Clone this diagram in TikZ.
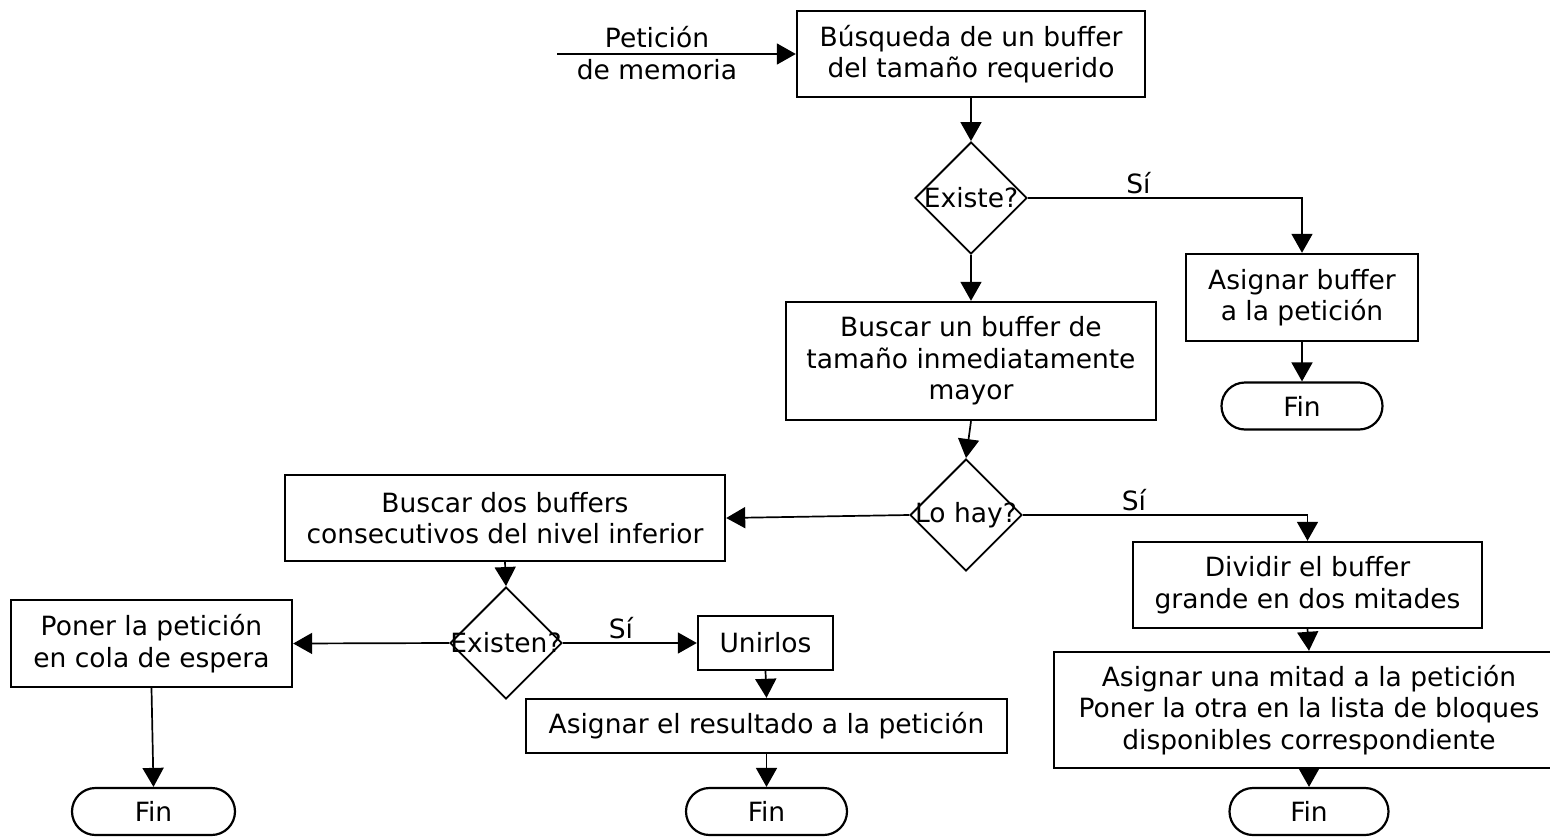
\documentclass[tikz,border=0pt]{standalone}
\usepackage{fontspec}
\setmainfont{DejaVu Sans}
\usetikzlibrary{arrows.meta,shapes.geometric}
\begin{document}
\begin{tikzpicture}[x=1pt,y=-1pt,
  every node/.style={font=\fontsize{26.5}{31.5}\selectfont, inner sep=0pt, align=center},
  procbox/.style={draw, line width=2.4pt, rectangle},
  decision/.style={draw, line width=1.9pt, diamond, minimum width=112pt, minimum height=112pt},
  terminal/.style={draw, line width=2.2pt, rectangle, rounded corners=23.5pt, minimum width=161pt, minimum height=47pt},
  flow/.style={line width=1.7pt, -{Triangle[length=19pt,width=21pt]}},
  answer/.style={anchor=base}]

\useasboundingbox (0,0) rectangle (1550,836);
\clip (0,0) rectangle (1550,836);

% process steps
\node[procbox, minimum width=348pt, minimum height=86pt] (busq) at (971,54) {Búsqueda de un buffer\\del tamaño requerido};
\node[decision] (existe) at (971,198) {\makebox[0pt]{Existe?}};
\node[procbox, minimum width=232pt, minimum height=87pt] (asigbuf) at (1302,297.5) {Asignar buffer\\a la petición};
\node[terminal] (fin1) at (1302,406) {Fin};
\node[procbox, minimum width=370pt, minimum height=118pt] (mayor) at (971,361) {Buscar un buffer de\\tamaño inmediatamente\\mayor};
\node[decision] (lohay) at (966,515) {\makebox[0pt]{Lo hay?}};
\node[procbox, minimum width=440pt, minimum height=86pt] (dos) at (505,518) {Buscar dos buffers\\consecutivos del nivel inferior};
\node[decision] (existen) at (506,643) {\makebox[0pt]{Existen?}};
\node[procbox, minimum width=281pt, minimum height=87pt] (cola) at (151.5,643.5) {Poner la petición\\en cola de espera};
\node[terminal, minimum width=163pt] (fin2) at (153.5,811.5) {Fin};
\node[procbox, minimum width=135pt, minimum height=54pt] (unir) at (765.5,643) {Unirlos};
\node[procbox, minimum width=481pt, minimum height=54pt] (result) at (766.5,726) {Asignar el resultado a la petición};
\node[terminal] (fin3) at (766.5,811.5) {Fin};
\node[procbox, minimum width=349pt, minimum height=86pt] (dividir) at (1307.5,585) {Dividir el buffer\\grande en dos mitades};
\node[procbox, minimum width=510pt, minimum height=116pt] (mitad) at (1309,710) {Asignar una mitad a la petición\\Poner la otra en la lista de bloques\\disponibles correspondiente};
\node[terminal, minimum width=159pt] (fin4) at (1309,811.5) {Fin};

% incoming request
\coordinate (req) at (557,54);
\draw[flow] (req) -- (busq.west);
\node (peticion) at (657,53) {Petición\\de memoria};

% connectors
\draw[flow] (busq.south) -- (existe.north);
\draw[flow] (existe.east) -| (asigbuf.north);
\node[answer] (si1) at (1138.5,193) {Sí};
\draw[flow] (asigbuf.south) -- (fin1.north);
\draw[flow] (existe.south) -- (mayor.north);
\draw[flow] (mayor.south) -- (lohay.north);
\draw[flow] (lohay.west) -- (dos.east);
\draw[flow] (lohay.east) -| (dividir.north);
\node[answer] (si2) at (1134,510) {Sí};
\draw[flow] (dividir.south) -- (mitad.north);
\draw[flow] (mitad.south) -- (fin4.north);
\draw[flow] (dos.south) -- (existen.north);
\draw[flow] (existen.west) -- (cola.east);
\draw[flow] (cola.south) -- (fin2.north);
\draw[flow] (existen.east) -- (unir.west);
\node[answer] (si3) at (621,638) {Sí};
\draw[flow] (unir.south) -- (result.north);
\draw[flow] (result.south) -- (fin3.north);
\end{tikzpicture}
\end{document}
